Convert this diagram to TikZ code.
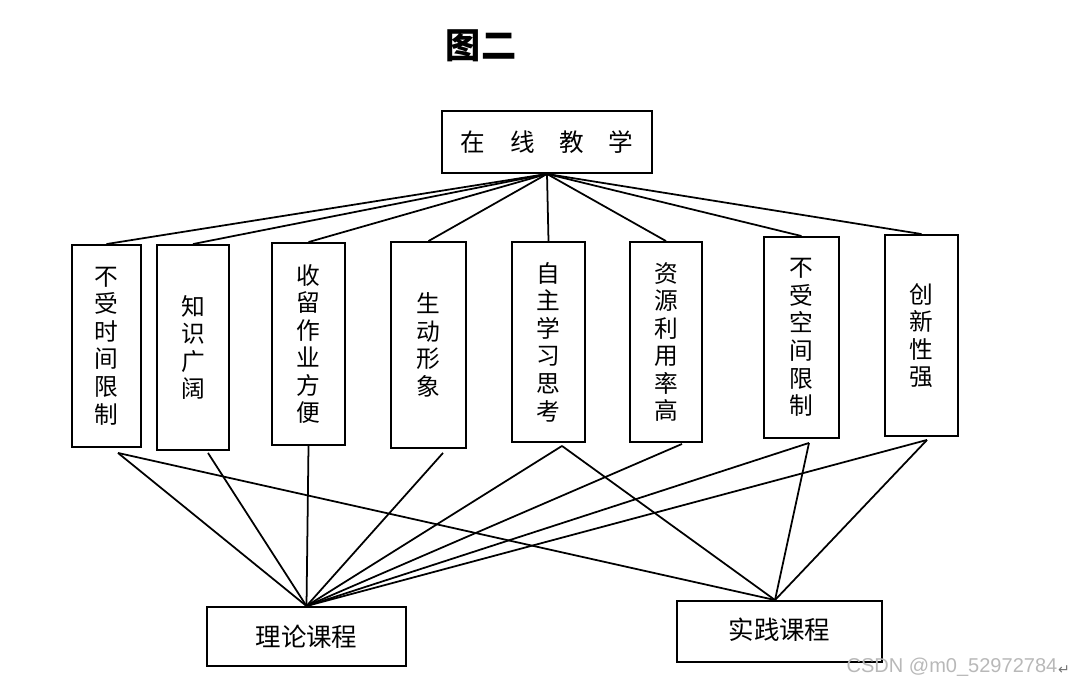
\documentclass[tikz,border=0pt]{standalone}
\usepackage{fontspec}
\setmainfont{Noto Sans CJK SC}
\newfontfamily\wmfont{Liberation Sans}
\newfontfamily\symfont{DejaVu Sans}
\begin{document}
\begin{tikzpicture}[x=0.02cm,y=-0.02cm,
    box/.style={draw,line width=1.1pt,inner sep=0pt,font=\fontsize{14.5pt}{16pt}\selectfont},
    vbox/.style={box,align=center,font=\fontsize{13.5pt}{15.7pt}\selectfont},
    link/.style={line width=1pt}]
  \useasboundingbox (0,0) rectangle (1075,686);
  % title
  \node[font=\fontsize{20pt}{22pt}\selectfont\bfseries] (title) at (481,46) {图二};
  % top box
  \node[box,minimum width=4.2cm,minimum height=1.24cm,font=\fontsize{14pt}{16pt}\selectfont]
    (top) at (547,142) {在\quad 线\quad 教\quad 学};
  % feature boxes
  \node[vbox,minimum width=1.38cm,minimum height=4.04cm] (b1) at (106.5,346) {不\\受\\时\\间\\限\\制};
  \node[vbox,minimum width=1.44cm,minimum height=4.10cm] (b2) at (193,347.5) {知\\识\\广\\阔};
  \node[vbox,minimum width=1.46cm,minimum height=4.04cm] (b3) at (308.5,344) {收\\留\\作\\业\\方\\便};
  \node[vbox,minimum width=1.50cm,minimum height=4.12cm] (b4) at (428.5,345) {生\\动\\形\\象};
  \node[vbox,minimum width=1.46cm,minimum height=4.00cm] (b5) at (548.5,342) {自\\主\\学\\习\\思\\考};
  \node[vbox,minimum width=1.44cm,minimum height=4.00cm] (b6) at (666,342) {资\\源\\利\\用\\率\\高};
  \node[vbox,minimum width=1.50cm,minimum height=4.02cm] (b7) at (801.5,337.5) {不\\受\\空\\间\\限\\制};
  \node[vbox,minimum width=1.46cm,minimum height=4.02cm] (b8) at (921.5,335.5) {创\\新\\性\\强};
  % course boxes
  \node[box,minimum width=3.98cm,minimum height=1.18cm] (theory) at (306.5,636.5) {理论课程};
  \node[box,minimum width=4.10cm,minimum height=1.22cm] (practice) at (779.5,631.5) {\raisebox{3pt}{实践课程}};
  \coordinate (pj) at ([xshift=-0.09cm]practice.north);
  % lines from the top box
  \foreach \i in {1,...,8} \draw[link] (top.south) -- (b\i.north);
  % lines to the courses
  \foreach \i/\dx/\dy in {1/11.5/5, 2/15/2, 3/0/0, 4/14.5/4, 5/13.5/3, 6/16/1, 7/7.5/4, 8/5.5/3}
    \coordinate (b\i-end) at ([shift={(\dx,\dy)}]b\i.south);
  \foreach \i in {1,...,8} \draw[link] (b\i-end) -- (theory.north);
  \foreach \i in {1,5,7,8} \draw[link] (b\i-end) -- (pj);
  % watermark
  \node[text=black!28,font=\wmfont\fontsize{11.4pt}{12pt}\selectfont] (mark) at (952,667) {CSDN @m0\_52972784};
  \node[text=black!55,font=\symfont\fontsize{8pt}{9pt}\selectfont] (ret) at (1064,670) {↵};
\end{tikzpicture}
\end{document}
